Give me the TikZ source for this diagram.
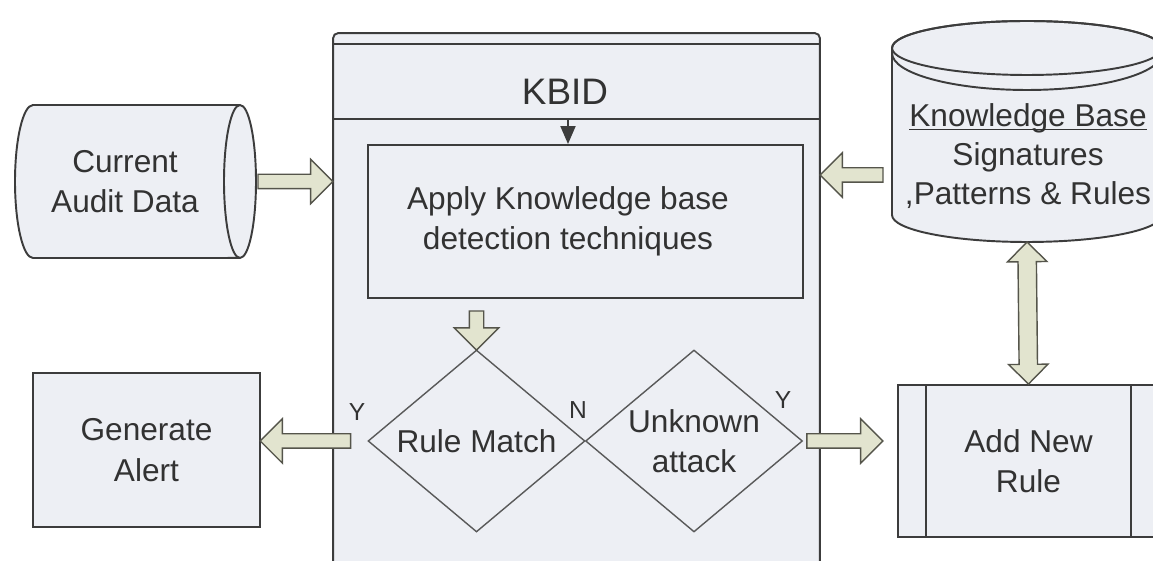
\documentclass[tikz,border=0pt]{standalone}
\usepackage{fontspec}
\setmainfont{Liberation Sans}
\usetikzlibrary{shapes.geometric,shapes.arrows,calc,arrows.meta}

\definecolor{boxfill}{RGB}{237,239,244}
\definecolor{boxline}{RGB}{60,60,60}
\definecolor{arrfill}{RGB}{226,228,207}
\definecolor{arrline}{RGB}{85,85,75}
\definecolor{inktext}{RGB}{50,50,50}

% block arrow from #1 (tail) to #2 (tip)
\newcommand\fatarrow[2]{%
  \path let \p1=(#1), \p2=(#2), \n1={atan2(\y2-\y1,\x2-\x1)}, \n2={veclen(\x2-\x1,\y2-\y1)} in
    node[fatarr, minimum height=\n2, rotate=\n1, anchor=tail] at (\p1) {};}
% two-headed block arrow between #1 and #2
\newcommand\fatdarrow[2]{%
  \path let \p1=(#1), \p2=(#2), \n1={atan2(\y2-\y1,\x2-\x1)}, \n2={veclen(\x2-\x1,\y2-\y1)} in
    node[fatdarr, minimum height=\n2, rotate=\n1] at ($(\p1)!.5!(\p2)$) {};}

\begin{document}
\begin{tikzpicture}[
        x=0.02cm, y=0.02cm,
        every node/.style={text=inktext, font=\fontsize{18}{23}\selectfont, align=center},
        box/.style={draw=boxline, fill=boxfill, line width=1.1pt, inner sep=0pt},
        rim/.style={draw=boxline, line width=1.1pt},
        cyl/.style={draw=boxline, fill=boxfill, line width=1.1pt},
        decision/.style={diamond, aspect=1.2, draw=boxline!85, fill=boxfill, line width=0.8pt,
            inner sep=0pt, minimum width=4.34cm, minimum height=3.64cm},
        fatarr/.style={single arrow, draw=arrline, fill=arrfill, line width=0.8pt, inner xsep=0pt,
            inner ysep=0.13cm, minimum width=0pt, single arrow head extend=0.3cm, single arrow tip angle=90},
        fatdarr/.style={double arrow, draw=arrline, fill=arrfill, line width=0.8pt, inner xsep=0pt,
            inner ysep=0.17cm, minimum width=0pt, double arrow head extend=0.21cm, double arrow tip angle=90},
        yn/.style={font=\fontsize{14}{14}\selectfont},
    ]
    \fill[white] (0,0) rectangle (1153,561);
    \useasboundingbox (0,0) rectangle (1153,561);

    % KBID frame, runs past the bottom edge
    \node[box, rounded corners=3pt, minimum width=9.74cm, minimum height=11.36cm] (kbid) at (576.5,244) {};
    \draw[rim] ([yshift=-0.24cm]kbid.north west) -- ([yshift=-0.24cm]kbid.north east);
    \draw[rim] ([yshift=-1.74cm]kbid.north west) -- ([yshift=-1.74cm]kbid.north east);
    \node[font=\fontsize{21}{21}\selectfont] (kbidtitle) at (565,469) {KBID};

    \node[box, minimum width=8.7cm, minimum height=3.06cm] (apply) at (585.5,339.5)
        {Apply Knowledge base\hspace*{0.7cm}\\detection techniques\hspace*{0.7cm}};
    \coordinate (hdr) at (568,441);
    \draw[rim, -{Triangle[width=0.3cm,length=0.36cm]}] (hdr) -- (hdr |- apply.north);

    \node[decision] (rule) at (476.5,120) {Rule Match};
    \node[decision] (unk) at (694,120) {Unknown\\attack};
    \node[yn] (ruleY) at (357,149) {Y};
    \node[yn] (ruleN) at (578,151) {N};
    \node[yn] (unkY) at (783,161) {Y};

    % audit data drum (lying on its side)
    \draw[cyl] (33,456) -- (240,456) arc[start angle=90, end angle=-90, x radius=0.32cm, y radius=1.53cm]
        -- (33,303) arc[start angle=270, end angle=90, x radius=0.36cm, y radius=1.53cm] -- cycle;
    \draw[rim] (240,456) arc[start angle=90, end angle=270, x radius=0.32cm, y radius=1.53cm];
    \node[minimum width=5.28cm, minimum height=3.06cm] (audit) at (125,379.5) {Current\\Audit Data};

    % knowledge base drum
    \draw[cyl] (892,513) -- (892,346) arc[start angle=180, end angle=360, x radius=2.7cm, y radius=0.54cm]
        -- (1162,513) arc[start angle=0, end angle=180, x radius=2.7cm, y radius=0.54cm] -- cycle;
    \draw[rim] (1027,513) ellipse [x radius=2.7cm, y radius=0.54cm];
    \draw[rim] (892,508) arc[start angle=180, end angle=360, x radius=2.7cm, y radius=0.74cm];
    \node[font=\fontsize{18}{22}\selectfont, minimum width=5.4cm] (kb) at (1028,405)
        {\underline{\raisebox{0pt}[\height][0pt]{Knowledge Base}}\\Signatures\\,Patterns \& Rules};
    \coordinate (kbbase) at (1027,319);

    \node[box, minimum width=4.54cm, minimum height=3.08cm] (gen) at (146.5,111) {Generate\\Alert};
    \node[box, minimum width=5.22cm, minimum height=3.04cm] (add) at (1028.5,100) {Add New\\Rule};
    \draw[rim] ([xshift=0.58cm]add.north west) -- ([xshift=0.58cm]add.south west)
        ([xshift=-0.58cm]add.north east) -- ([xshift=-0.58cm]add.south east);

    % block arrows
    \fatarrow{audit.east}{audit.east -| kbid.west}
    \fatarrow{$(kb.west)+(-9,-19)$}{$(kb.west -| kbid.east)+(0,-19)$}
    \fatarrow{$(rule.north)+(0,39)$}{rule.north}
    \fatarrow{$(rule.west)+(-16,0)$}{rule.west -| gen.east}
    \fatarrow{$(unk.east)+(3,0)$}{$(unk.east -| add.west)+(-15,0)$}
    \fatdarrow{kbbase}{add.north}
\end{tikzpicture}
\end{document}
